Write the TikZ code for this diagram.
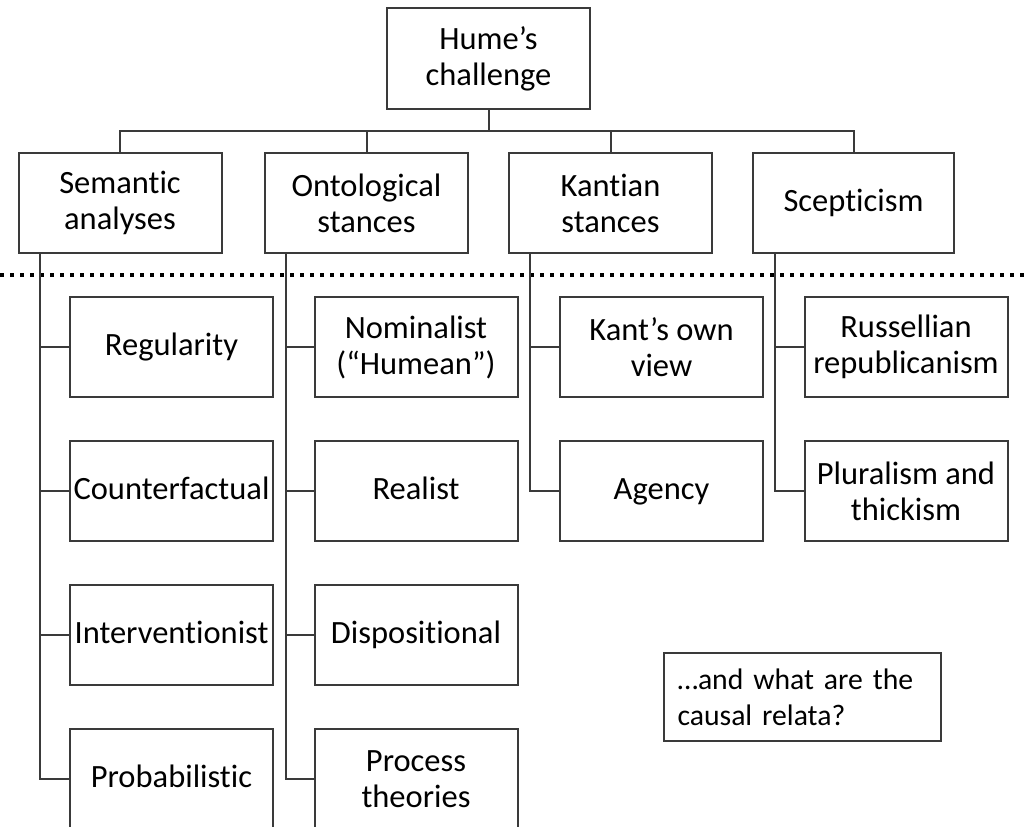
\documentclass[tikz,border=0pt]{standalone}
\usepackage{fontspec}
\setmainfont[RawFeature=-liga]{Carlito}
\definecolor{linec}{HTML}{3A3A3A}
\begin{document}
\begin{tikzpicture}[x=1pt,y=-1pt,
  boxnode/.style={draw=linec, line width=2pt, minimum width=203pt, minimum height=100pt,
    inner sep=0pt, align=center, font=\fontsize{32.5}{36}\selectfont},
  oneline/.style={text height=22pt, text depth=6pt},
  conn/.style={draw=linec, line width=2pt}]
\useasboundingbox (0,0) rectangle (1028,827);
% top
\node[boxnode, minimum height=101pt] (hume) at (488.5,58.5) {Hume’s\\challenge};
% level 2
\node[boxnode] (sem)  at (120,203)   {Semantic\\analyses};
\node[boxnode] (ont)  at (366.5,203) {Ontological\\stances};
\node[boxnode] (kan)  at (610.5,203) {Kantian\\stances};
\node[boxnode, oneline, minimum width=201pt] (scep) at (853.5,203) {Scepticism};
% dotted separator
\coordinate (dl) at (0,275);
\coordinate (dr) at (1028,275);
\draw[line width=4pt, dash pattern=on 4.3pt off 5.7pt, black] (dl) -- (dr);
% children: semantic
\node[boxnode, oneline] (reg)  at (171.5,347) {Regularity};
\node[boxnode, oneline] (cf)   at (171.5,491) {Counterfactual};
\node[boxnode, oneline] (intv) at (171.5,635) {Interventionist};
\node[boxnode, oneline] (prob) at (171.5,779) {Probabilistic};
% ontological
\node[boxnode] (nom)  at (416,347) {Nominalist\\(“Humean”)};
\node[boxnode, oneline] (real) at (416,491) {Realist};
\node[boxnode, oneline] (disp) at (416,635) {Dispositional};
\node[boxnode] (proc) at (416,779) {Process\\theories};
% kantian
\node[boxnode] (kown) at (661.5,347) {Kant’s own\\view};
\node[boxnode, oneline] (agen) at (661.5,491) {Agency};
% scepticism
\node[boxnode] (russ) at (906,347) {Russellian\\republicanism};
\node[boxnode] (plur) at (906,491) {Pluralism and\\thickism};
% note
\node[draw=linec, line width=2pt, minimum width=277pt, minimum height=88pt, inner sep=0pt,
  text width=250pt, align=left, font=\fontsize{29.7}{36}\selectfont] (note) at (802.5,697)
  {\mbox{…and what are the}\\\mbox{causal relata?}};
% top bus
\coordinate (bus) at (0,131);
\draw[conn] (hume.south) -- (hume.south |- bus);
\draw[conn] (sem.north) -- (sem.north |- bus) -- (scep.north |- bus) -- (scep.north);
\draw[conn] (ont.north) -- (ont.north |- bus);
\draw[conn] (kan.north) -- (kan.north |- bus);
% trunks
\draw[conn] ([xshift=-80pt]sem.south) |- (prob.west);
\foreach \c in {reg,cf,intv} \draw[conn] ([xshift=-80pt]sem.south |- \c.west) -- (\c.west);
\draw[conn] ([xshift=-80.5pt]ont.south) |- (proc.west);
\foreach \c in {nom,real,disp} \draw[conn] ([xshift=-80.5pt]ont.south |- \c.west) -- (\c.west);
\draw[conn] ([xshift=-80.5pt]kan.south) |- (agen.west);
\draw[conn] ([xshift=-80.5pt]kan.south |- kown.west) -- (kown.west);
\draw[conn] ([xshift=-78.5pt]scep.south) |- (plur.west);
\draw[conn] ([xshift=-78.5pt]scep.south |- russ.west) -- (russ.west);
\end{tikzpicture}
\end{document}
